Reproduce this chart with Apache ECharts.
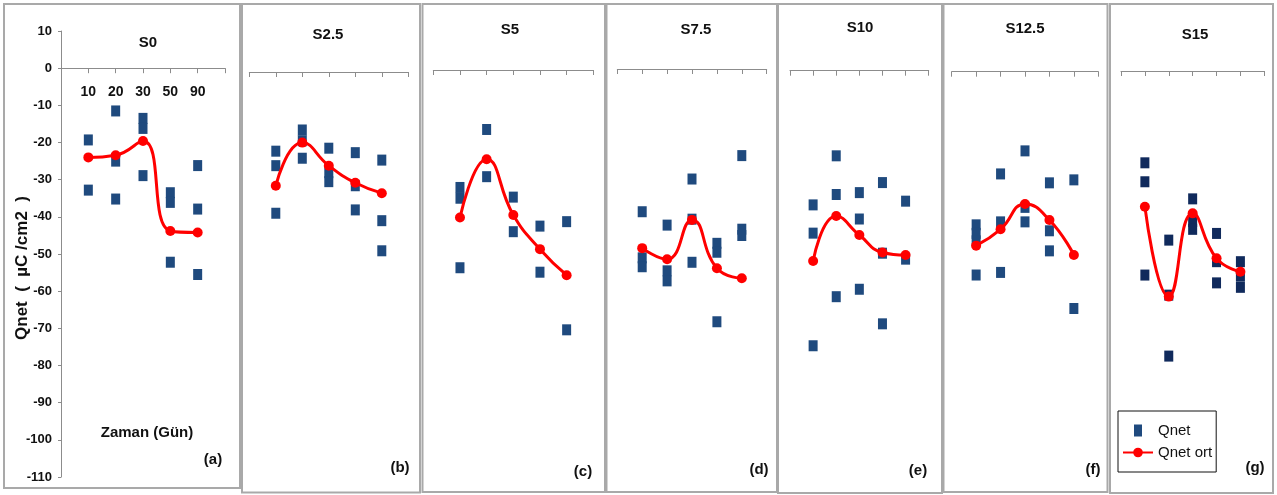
<!DOCTYPE html>
<html>
<head>
<meta charset="utf-8">
<script src="https://cdn.jsdelivr.net/npm/echarts@6/dist/echarts.min.js"></script>
<style>
  html, body { margin: 0; padding: 0; background: #ffffff; }
  #chart { width: 1277px; height: 495px; }
</style>
</head>
<body>
<div id="chart"></div>
<script>
// Sampling days (x categories) and per-panel titles / tags
const days = ['10', '20', '30', '50', '90'];
const panelTitles = ['S0', 'S2.5', 'S5', 'S7.5', 'S10', 'S12.5', 'S15'];
const panelTags = ['(a)', '(b)', '(c)', '(d)', '(e)', '(f)', '(g)'];

// Individual Qnet readings, one list per day
const qnetS0   = [[-19.3, -32.8], [-11.5, -25.0, -35.2], [-13.5, -16.2, -28.9], [-33.5, -36.1, -52.2], [-26.2, -37.9, -55.5]];
const qnetS2_5 = [[-21.3, -25.2, -38.0], [-15.6, -18.5, -23.2], [-20.5, -27.1, -29.5], [-21.7, -30.6, -37.1], [-23.7, -40.0, -48.1]];
const qnetS5   = [[-31.6, -34.5, -53.2], [-16.0, -28.7], [-34.2, -43.5], [-42.0, -54.4], [-40.8, -69.9]];
const qnetS7_5 = [[-38.4, -50.8, -53.2], [-42.0, -54.3, -57.0], [-29.6, -40.4, -52.0], [-46.9, -49.3, -68.0], [-23.3, -43.1, -44.8]];
const qnetS10  = [[-36.1, -43.7, -74.0], [-22.9, -33.3, -60.8], [-32.8, -39.9, -58.8], [-30.1, -49.1, -68.1], [-35.1, -50.7]];
const qnetS12_5 = [[-41.2, -43.5, -45.5, -54.7], [-27.5, -40.4, -54.0], [-21.3, -36.5, -40.4], [-29.9, -42.8, -48.2], [-29.1, -63.7]];
const qnetS15  = [[-24.7, -29.8, -54.9], [-45.5, -60.3, -76.7], [-34.4, -40.5, -42.6], [-43.7, -51.3, -57.0], [-51.3, -55.2, -58.2]];

// Mean Qnet (Qnet ort) per day
const qnetOrtS0    = [-24.0, -23.4, -19.6, -43.8, -44.2];
const qnetOrtS2_5  = [-30.6, -19.0, -25.2, -29.8, -32.6];
const qnetOrtS5    = [-39.7, -24.0, -39.0, -48.2, -55.2];
const qnetOrtS7_5  = [-48.2, -51.2, -40.6, -53.6, -56.3];
const qnetOrtS10   = [-51.2, -39.1, -44.2, -48.9, -49.6];
const qnetOrtS12_5 = [-46.8, -42.4, -35.6, -39.9, -49.3];
const qnetOrtS15   = [-36.5, -60.7, -38.3, -50.4, -54.0];

const qnetSets = [qnetS0, qnetS2_5, qnetS5, qnetS7_5, qnetS10, qnetS12_5, qnetS15];
const ortSets = [qnetOrtS0, qnetOrtS2_5, qnetOrtS5, qnetOrtS7_5, qnetOrtS10, qnetOrtS12_5, qnetOrtS15];

// Layout of the seven framed panels
const FONT = "'Liberation Sans', Arial, Helvetica, sans-serif";
const PX_PER_UNIT = 3.717;           // vertical scale shared by every panel
const Y_MIN = -110, Y_MAX = 10;
const layout = [
  { box: [4, 4, 236, 484],       left: 61,    width: 164,   zeroY: 68.2, title: [148, 43],  tag: [213, 460] },
  { box: [242, 4, 178, 488.5],   left: 249.3, width: 159,   zeroY: 72,   title: [328, 35],  tag: [400, 468] },
  { box: [422.5, 4, 182.5, 488], left: 433.3, width: 160,   zeroY: 70,   title: [510, 30],  tag: [583, 472] },
  { box: [606.5, 4, 170.5, 488], left: 617.3, width: 149.4, zeroY: 69,   title: [696, 30],  tag: [759, 470] },
  { box: [778, 4, 164, 489],     left: 790,   width: 138.7, zeroY: 70.7, title: [860, 28],  tag: [918, 471] },
  { box: [943.5, 4, 164, 488],   left: 951.7, width: 146.6, zeroY: 71.7, title: [1025, 29], tag: [1093, 470] },
  { box: [1110, 4, 163, 489],    left: 1121,  width: 143.3, zeroY: 71,   title: [1195, 35], tag: [1255, 468] }
];

const plotHeight = (Y_MAX - Y_MIN) * PX_PER_UNIT;
const zeroFromBottom = (0 - Y_MIN) * PX_PER_UNIT;   // distance of the zero line above the plot bottom
const grid = [], xAxis = [], yAxis = [], series = [], graphic = [];

layout.forEach((p, i) => {
  grid.push({
    left: p.left, width: p.width,
    top: p.zeroY - Y_MAX * PX_PER_UNIT, height: plotHeight,
    containLabel: false, outerBoundsMode: 'none'
  });
  // Day axis lifted from the plot bottom up to the zero line;
  // ticks and day labels hang below it
  xAxis.push({
    gridIndex: i, type: 'value', position: 'bottom',
    offset: -zeroFromBottom,
    min: 0, max: 6, interval: 1,
    axisLine: { show: true, onZero: false, lineStyle: { color: '#8c8c8c', width: 1 } },
    axisTick: { show: true, inside: false, length: 5, lineStyle: { color: '#8c8c8c' } },
    axisLabel: {
      show: i === 0, margin: 17,
      fontFamily: FONT, fontSize: 14, fontWeight: 'bold', color: '#111',
      formatter: v => (v >= 1 && v <= days.length) ? days[v - 1] : ''
    },
    splitLine: { show: false }
  });
  yAxis.push({
    gridIndex: i, type: 'value', show: i === 0,
    min: Y_MIN, max: Y_MAX, interval: 10,
    axisLine: { show: true, lineStyle: { color: '#8c8c8c', width: 1 } },
    axisTick: { show: true, length: 3, lineStyle: { color: '#8c8c8c' } },
    axisLabel: { margin: 9, fontFamily: FONT, fontSize: 13, fontWeight: 'bold', color: '#111' },
    splitLine: { show: false }
  });

  const pts = [];
  qnetSets[i].forEach((vals, d) => vals.forEach(v => pts.push([d + 1, v])));
  series.push({
    name: 'Qnet', type: 'scatter', xAxisIndex: i, yAxisIndex: i,
    symbol: 'rect', symbolSize: [9, 11],
    itemStyle: { color: i === 6 ? '#102a5c' : '#1f4a7e', opacity: 1 },
    data: pts, z: 2
  });
  series.push({
    name: 'Qnet ort', type: 'line', xAxisIndex: i, yAxisIndex: i,
    smooth: 0.5, symbol: 'circle', symbolSize: 10, showSymbol: true,
    lineStyle: { color: '#ff0000', width: 3 },
    itemStyle: { color: '#ff0000' },
    data: ortSets[i].map((v, d) => [d + 1, v]), z: 3
  });

  graphic.push({
    type: 'rect', shape: { x: p.box[0], y: p.box[1], width: p.box[2], height: p.box[3] },
    style: { fill: 'none', stroke: '#a9a9a9', lineWidth: 2 }, z: -1, silent: true
  });
  graphic.push({
    type: 'text', x: p.title[0], y: p.title[1],
    style: { text: panelTitles[i], font: `bold 15px ${FONT}`, fill: '#111', align: 'center', verticalAlign: 'middle' }
  });
  graphic.push({
    type: 'text', x: p.tag[0], y: p.tag[1],
    style: { text: panelTags[i], font: `bold 15px ${FONT}`, fill: '#111', align: 'center', verticalAlign: 'middle' }
  });
});

// Axis names drawn in the first panel
graphic.push({
  type: 'text', x: 22, y: 268, rotation: Math.PI / 2,
  style: { text: 'Qnet  (  µC /cm2  )', font: `bold 17px ${FONT}`, fill: '#111', align: 'center', verticalAlign: 'middle' }
});
graphic.push({
  type: 'text', x: 147, y: 433,
  style: { text: 'Zaman (Gün)', font: `bold 15px ${FONT}`, fill: '#111', align: 'center', verticalAlign: 'middle' }
});

const chart = echarts.init(document.getElementById('chart'), null, { renderer: 'canvas' });
chart.setOption({
  animation: false,
  backgroundColor: '#ffffff',
  grid, xAxis, yAxis, series, graphic,
  legend: {
    data: [
      { name: 'Qnet', icon: 'path://M0,0h8v12h-8z' },
      { name: 'Qnet ort' }
    ],
    orient: 'vertical', left: 1118, top: 411,
    padding: [12, 4, 12, 4], itemGap: 7,
    itemWidth: 30, itemHeight: 12,
    borderColor: '#111', borderWidth: 1, backgroundColor: '#fff',
    textStyle: { fontFamily: FONT, fontSize: 15, color: '#111' },
    selectedMode: false
  }
});
</script>
</body>
</html>
